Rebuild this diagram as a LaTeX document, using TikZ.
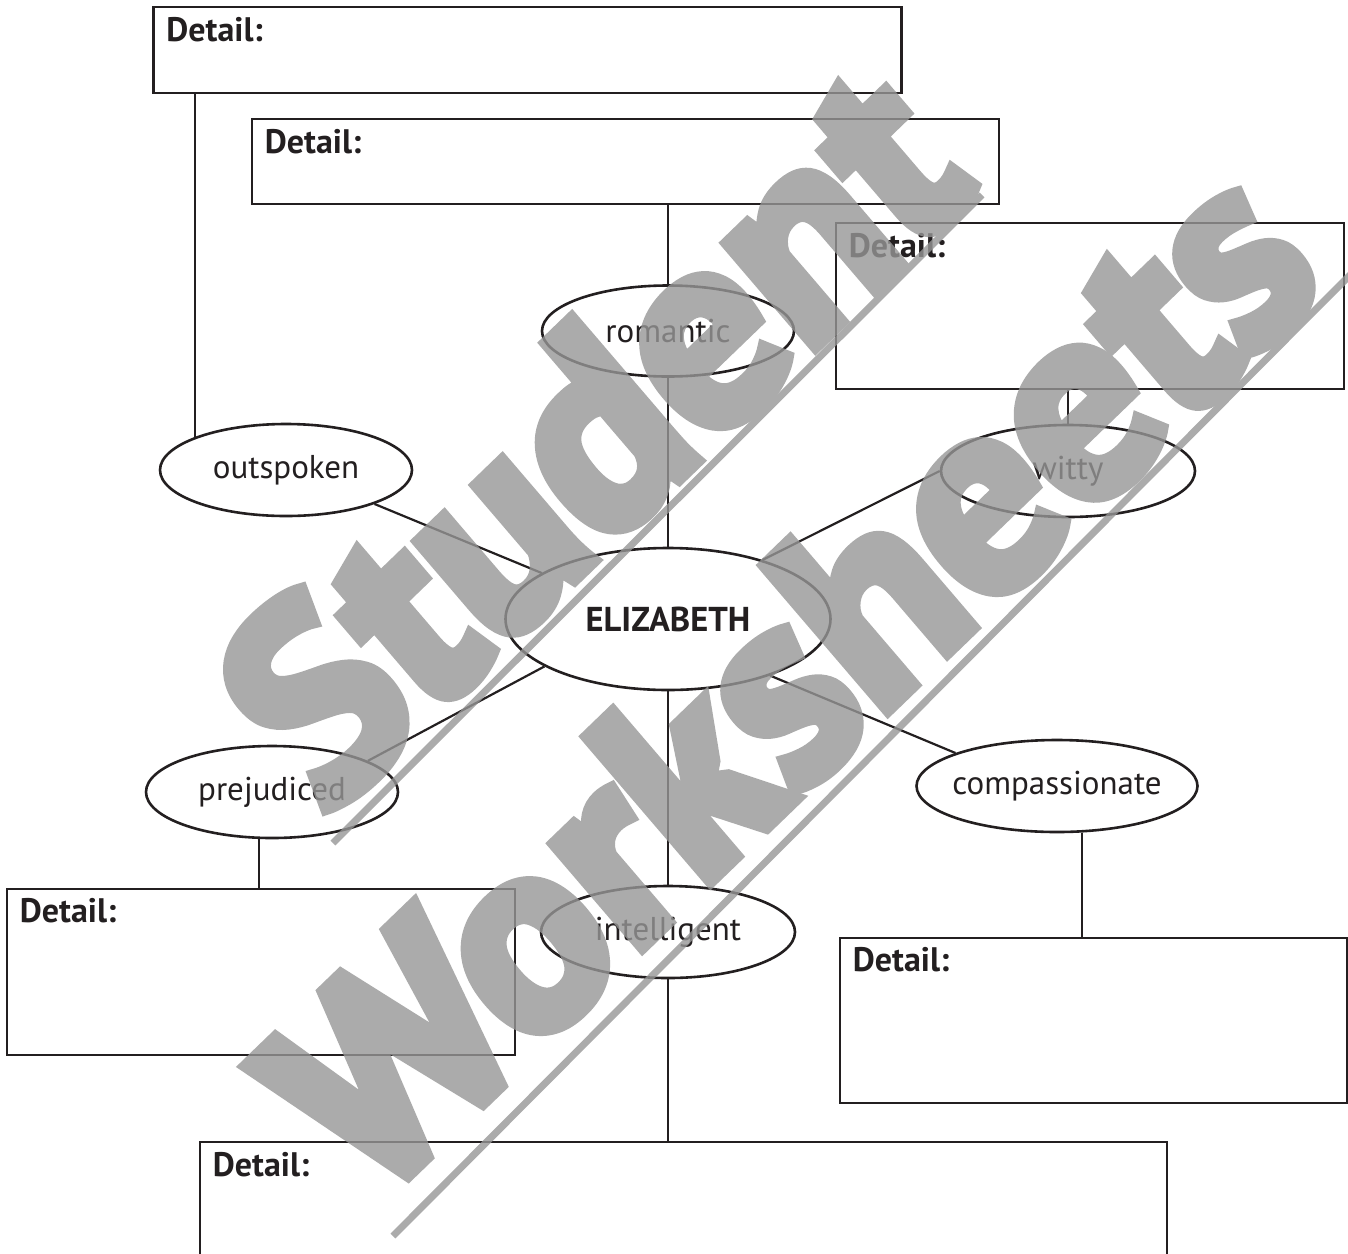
\documentclass[tikz,border=0pt]{standalone}
\usepackage{fontspec}
\setmainfont{PT Sans}
\newfontfamily\wmfont[BoldFeatures={FakeBold=5}]{PT Sans}
\usetikzlibrary{shapes.geometric,calc}
\definecolor{ink}{HTML}{231F20}
\definecolor{wmgray}{RGB}{150,150,150}
\begin{document}
\begin{tikzpicture}[x=1pt,y=-1pt,
  frame/.style={draw=ink, line width=2.6pt, inner sep=0pt, rectangle},
  bubble/.style={draw=ink, line width=2.6pt, ellipse, inner sep=0pt,
     minimum width=252pt, minimum height=92pt, text=ink,
     font=\fontsize{33}{38}\selectfont},
  hdr/.style={anchor=base west, inner sep=0pt, text=ink,
     font=\fontsize{34}{38}\selectfont\bfseries},
  link/.style={draw=ink, line width=2.2pt},
  wmline/.style={draw=wmgray, line width=7pt},
  wmword/.style={text=wmgray, rotate=44, xslant=0.06, anchor=base west, inner sep=0pt,
     font=\wmfont\fontsize{270}{270}\selectfont\bfseries}]
\clip (0,0) rectangle (1348,1253);
\fill[white] (0,0) rectangle (1348,1253);
% detail boxes
\node[frame, minimum width=748pt, minimum height=86pt] (A) at (527.5,50) {};
\node[frame, minimum width=747pt, minimum height=85pt] (B) at (625.5,161.5) {};
\node[frame, minimum width=508pt, minimum height=166pt] (C) at (1090,306) {};
\node[frame, minimum width=508pt, minimum height=166pt] (D) at (261,972) {};
\node[frame, minimum width=507pt, minimum height=165pt] (E) at (1093.5,1020.5) {};
\node[frame, minimum width=967pt, minimum height=200pt] (F) at (683.5,1242) {};
\node[hdr] (hA) at ($(A.north west)+(14,36)$) {Detail:};
\node[hdr] (hB) at ($(B.north west)+(14,36)$) {Detail:};
\node[hdr] (hC) at ($(C.north west)+(14,36)$) {Detail:};
\node[hdr] (hD) at ($(D.north west)+(14,35)$) {Detail:};
\node[hdr] (hE) at ($(E.north west)+(14,35)$) {Detail:};
\node[hdr] (hF) at ($(F.north west)+(14,36)$) {Detail:};
% ellipses
\node[bubble, minimum height=91pt] (rom) at (668,331) {romantic};
\node[bubble] (out) at (286,470) {outspoken};
\node[bubble, minimum width=254pt] (wit) at (1068,471) {witty};
\node[bubble, minimum width=325pt, minimum height=142pt,
      font=\fontsize{34.5}{38}\selectfont\bfseries] (eliz) at (668,619) {ELIZABETH};
\node[bubble] (pre) at (272,792) {prejudiced};
\node[bubble, minimum width=281pt, inner xsep=-14pt] (com) at (1057,786) {compassionate};
\node[bubble, minimum width=254pt] (int) at (668,932) {intelligent};
% connectors
\draw[link] (out.160) -- (out.160 |- A.south);
\draw[link] (rom.north) -- (rom.north |- B.south);
\draw[link] (rom.south) -- (eliz.north);
\draw[link] (wit.north) -- (wit.north |- C.south);
\draw[link] (out.-21) -- (eliz.160);
\draw[link] (wit.180) -- (eliz.32);
\draw[link] (eliz.201) -- (pre.18);
\draw[link] (eliz.-29) -- (com.162);
\draw[link] (eliz.south) -- (int.north);
\draw[link] (int.south) -- (int.south |- F.north);
\draw[link] (pre.255) -- (pre.255 |- D.north);
\draw[link] (com.-62) -- (com.-62 |- E.north);
% watermark
\begin{scope}[transparency group, opacity=0.8]
\coordinate (w1a) at (333,843);
\coordinate (w1b) at (982,195);
\coordinate (w2a) at (393,1236);
\coordinate (w2b) at (1352,273);
\draw[wmline] (w1a) -- (w1b);
\draw[wmline] (w2a) -- (w2b);
\node[wmword] (stu) at (325.9,818.9) {Student};
\node[wmword] (wor) at (369.7,1209.9) {Worksheets};
\end{scope}
\end{tikzpicture}
\end{document}
